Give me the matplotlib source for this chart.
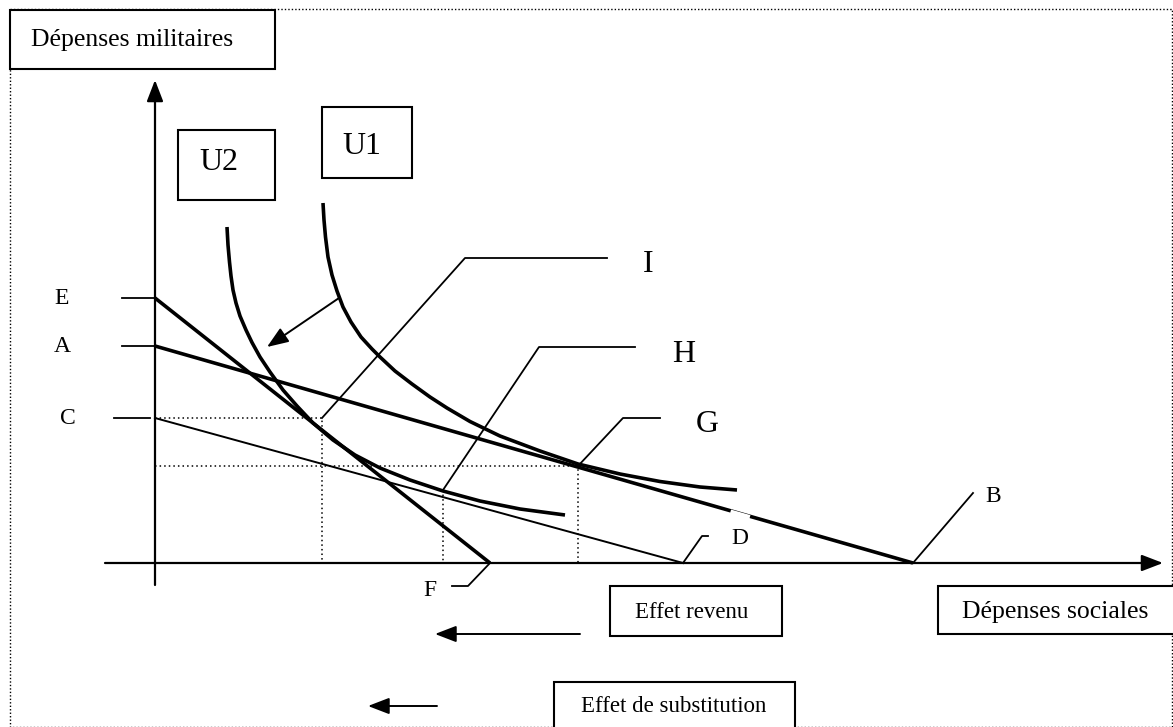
import numpy as np
import matplotlib
matplotlib.use("Agg")
from matplotlib import pyplot as plt
from matplotlib.patches import Rectangle

plt.rcParams['font.family'] = ['Liberation Serif', 'DejaVu Serif']

# coordonnées (pixels, y vers le bas)
point_E = (155, 298)
point_A = (155, 346)
point_C = (155, 418)
point_F = (490, 563)
point_B = (913, 563)
point_D = (683, 563)
point_G = (578, 466)
point_H = (443, 490)
point_I = (322, 418)

# courbes d'indifférence (points lus le long des courbes)
u1_x = [323, 324, 325.5, 328, 332, 337, 343, 351, 361, 372, 380, 395, 412, 430,
        447, 470, 500, 540, 578, 620, 660, 700, 737]
u1_y = [203, 220, 237, 257, 275, 291, 307, 322, 337, 349, 357, 371, 384, 397,
        408, 421.5, 436, 451, 464, 474, 481.5, 487, 490]
u2_x = [227, 228, 229.5, 231, 233, 236, 240, 246, 252, 260, 270, 283, 297, 313,
        333, 355, 380, 410, 443, 480, 520, 565]
u2_y = [227, 245, 262, 276, 290, 303, 316, 330, 342.5, 357, 372, 390, 406, 423,
        440, 455, 468, 480, 491, 501, 509, 515]

# étiquettes des points et leurs renvois
point_labels = ["E", "A", "C", "F", "D", "B"]
label_pos = [(62, 298), (62, 346), (68, 419), (430, 590), (740, 538), (993, 497)]
leaders = [
    [(122, 298), (155, 298)],
    [(122, 346), (155, 346)],
    [(114, 418), (150, 418)],
    [(490, 563), (468, 586), (452, 586)],
    [(683, 563), (702, 536), (708, 536)],
    [(913, 563), (973, 493)],
]
big_labels = ["I", "H", "G"]
big_pos = [(648, 265), (684, 354), (707, 425)]
big_leaders = [
    [point_I, (465, 258), (607, 258)],
    [point_H, (539, 347), (635, 347)],
    [point_G, (623, 418), (660, 418)],
]

fig = plt.figure(figsize=(11.73, 7.27), dpi=100)
ax = fig.add_axes([0, 0, 1, 1])
ax.set_xlim(0, 1173)
ax.set_ylim(727, 0)
ax.axis('off')

# cadre pointillé
ax.plot([10, 1172, 1172, 10, 10], [9, 9, 727, 727, 9], color='black', lw=1, ls=(0, (1, 1.5)))

arrow_style = '-|>,head_length=1.3,head_width=0.5'

# axes
ax.annotate('', xy=(155, 80), xytext=(155, 585),
            arrowprops=dict(arrowstyle=arrow_style, lw=1.6, color='black', shrinkA=0, shrinkB=0))
ax.annotate('', xy=(1163, 563), xytext=(105, 563),
            arrowprops=dict(arrowstyle=arrow_style, lw=1.6, color='black', shrinkA=0, shrinkB=0))

# pointillés de projection
dot = dict(color='black', lw=1.1, ls=(0, (1, 2)))
ax.plot([155, point_I[0], point_I[0]], [point_I[1], point_I[1], 563], **dot)
ax.plot([155, point_G[0], point_G[0]], [point_G[1], point_G[1], 563], **dot)
ax.plot([point_H[0], point_H[0]], [point_H[1], 563], **dot)

# droites de budget
ax.plot([point_E[0], point_F[0]], [point_E[1], point_F[1]], color='black', lw=2.6, solid_capstyle='butt')
ax.plot([point_A[0], point_B[0]], [point_A[1], point_B[1]], color='black', lw=2.6, solid_capstyle='butt')
ax.plot([point_C[0], point_D[0]], [point_C[1], point_D[1]], color='black', lw=1.4)

# courbes U1, U2
ax.plot(u1_x, u1_y, color='black', lw=2.6, solid_joinstyle='round', solid_capstyle='butt')
ax.plot(u2_x, u2_y, color='black', lw=2.6, solid_joinstyle='round', solid_capstyle='butt')

# petites coupures blanches
ax.plot([412, 436], [563, 563], color='white', lw=2.5)
ax.plot([733, 747], [513, 517], color='white', lw=4)

# flèche de déplacement
ax.annotate('', xy=(267, 347), xytext=(339, 298),
            arrowprops=dict(arrowstyle=arrow_style, lw=1.4, color='black', shrinkA=0, shrinkB=0))

# renvois et étiquettes
for pts, lab, pos in zip(leaders, point_labels, label_pos):
    xs, ys = zip(*pts)
    ax.plot(xs, ys, color='black', lw=1.3)
    ax.text(pos[0], pos[1], lab, fontsize=17, ha='center', va='center')
for pts, lab, pos in zip(big_leaders, big_labels, big_pos):
    xs, ys = zip(*pts)
    ax.plot(xs, ys, color='black', lw=1.3)
    ax.text(pos[0], pos[1], lab, fontsize=23, ha='center', va='center')

# encadrés
boxes = [
    ("Dépenses militaires", (10, 10, 265, 59), 18.5, (31, 40), 'left'),
    ("U2", (178, 130, 97, 70), 23, (219, 162), 'center'),
    ("U1", (322, 107, 90, 71), 23, (362, 146), 'center'),
    ("Effet revenu", (610, 586, 172, 50), 16.5, (692, 613), 'center'),
    ("Dépenses sociales", (938, 586, 240, 48), 18.5, (1055, 612), 'center'),
    ("Effet de substitution", (554, 682, 241, 50), 16.5, (674, 707), 'center'),
]
for text, (bx, by, bw, bh), fs, (tx, ty), ha in boxes:
    ax.add_patch(Rectangle((bx, by), bw, bh, facecolor='white', edgecolor='black', lw=1.5, zorder=3))
    ax.text(tx, ty, text, fontsize=fs, ha=ha, va='center', zorder=4)

# flèches des effets
ax.annotate('', xy=(435, 634), xytext=(580, 634),
            arrowprops=dict(arrowstyle=arrow_style, lw=1.4, color='black', shrinkA=0, shrinkB=0))
ax.annotate('', xy=(368, 706), xytext=(437, 706),
            arrowprops=dict(arrowstyle=arrow_style, lw=1.4, color='black', shrinkA=0, shrinkB=0))

fig.savefig('out.png', dpi=100)
